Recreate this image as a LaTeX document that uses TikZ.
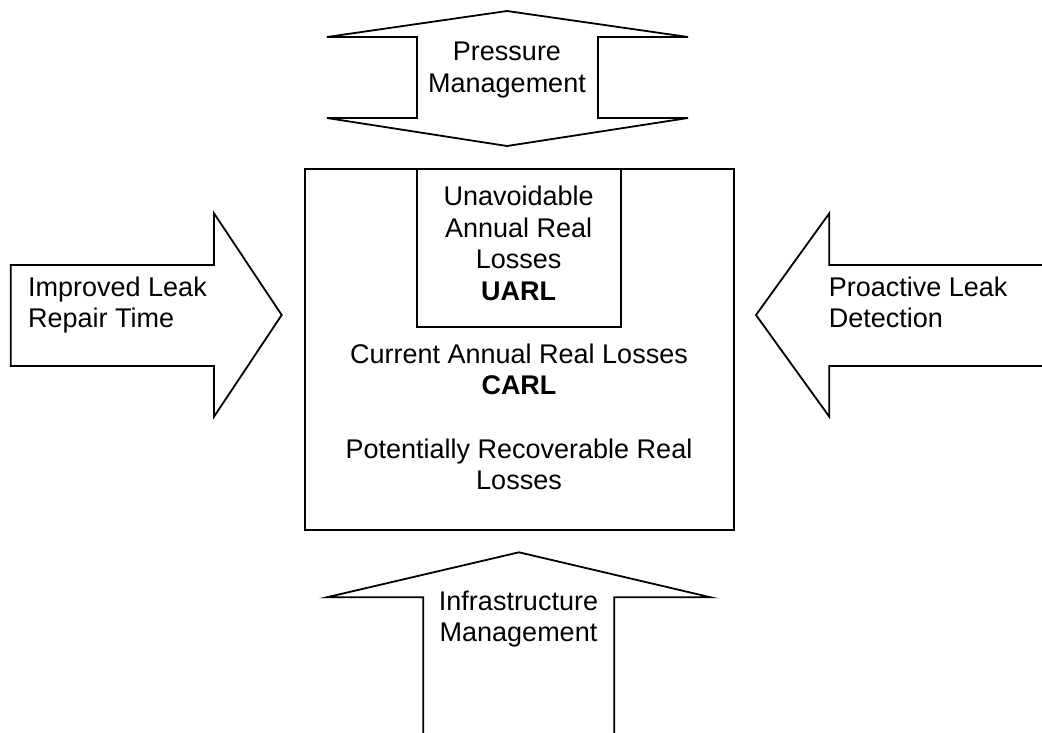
\documentclass[tikz,border=0pt]{standalone}
\usepackage{fontspec}
\setmainfont{Liberation Sans}
\begin{document}
\begin{tikzpicture}[x=1pt,y=-1pt,
  outline/.style={draw=black,line width=1.8pt,line join=miter},
  boxtext/.style={font=\fontsize{27}{31.5}\selectfont,inner sep=0pt,anchor=north,align=center},
  sidetext/.style={font=\fontsize{27}{31}\selectfont,inner sep=0pt,anchor=north west,align=left}]

\useasboundingbox (0,0) rectangle (1042,732);
\clip (0,0) rectangle (1042,732);

% central loss boxes
\node (carlbox) [outline,minimum width=429.3pt,minimum height=361pt,inner sep=0pt] at (519.35,349.5) {};
\node (uarlbox) [outline,minimum width=204pt,minimum height=157.7pt,inner sep=0pt] at (518.7,247.85) {};

% pressure management: double-headed vertical arrow
\draw[outline] (507,11) -- (327,37) -- (417,37) -- (417,118) -- (327,118)
  -- (507,146) -- (688,118) -- (598,118) -- (598,37) -- (688,37) -- cycle;

% repair time: arrow pointing right
\draw[outline] (10.7,265) -- (214,265) -- (214,213.3) -- (281.7,315)
  -- (214,416.7) -- (214,366) -- (10.7,366) -- cycle;

% leak detection: arrow pointing left, shaft running off the edge
\draw[outline] (1046,265) -- (829.3,265) -- (829.3,213.3) -- (756,315)
  -- (829.3,416.7) -- (829.3,366) -- (1046,366);

% infrastructure: arrow pointing up, shaft running off the edge
\draw[outline] (423.3,736) -- (423.3,597.3) -- (326.7,597.3) -- (519,552.3)
  -- (710.7,597.3) -- (614.3,597.3) -- (614.3,736);

% labels
\node (pm) [boxtext] at (507,42) {Pressure\\Management};
\node (ilr) [sidetext] at (28,277) {Improved Leak\\Repair Time};
\node (pld) [sidetext] at (828.7,277) {Proactive Leak\\Detection};
\node (infra) [boxtext] at (518.5,590.3) {Infrastructure\\Management};
\node (uarl) [boxtext] at (518.7,186) {Unavoidable\\Annual Real\\Losses\\\textbf{UARL}};
\node (carl) [boxtext] at (519,343.6) {Current Annual Real Losses\\\textbf{CARL}};
\node (prl) [boxtext] at (519,438.6) {Potentially Recoverable Real\\Losses};
\end{tikzpicture}
\end{document}
